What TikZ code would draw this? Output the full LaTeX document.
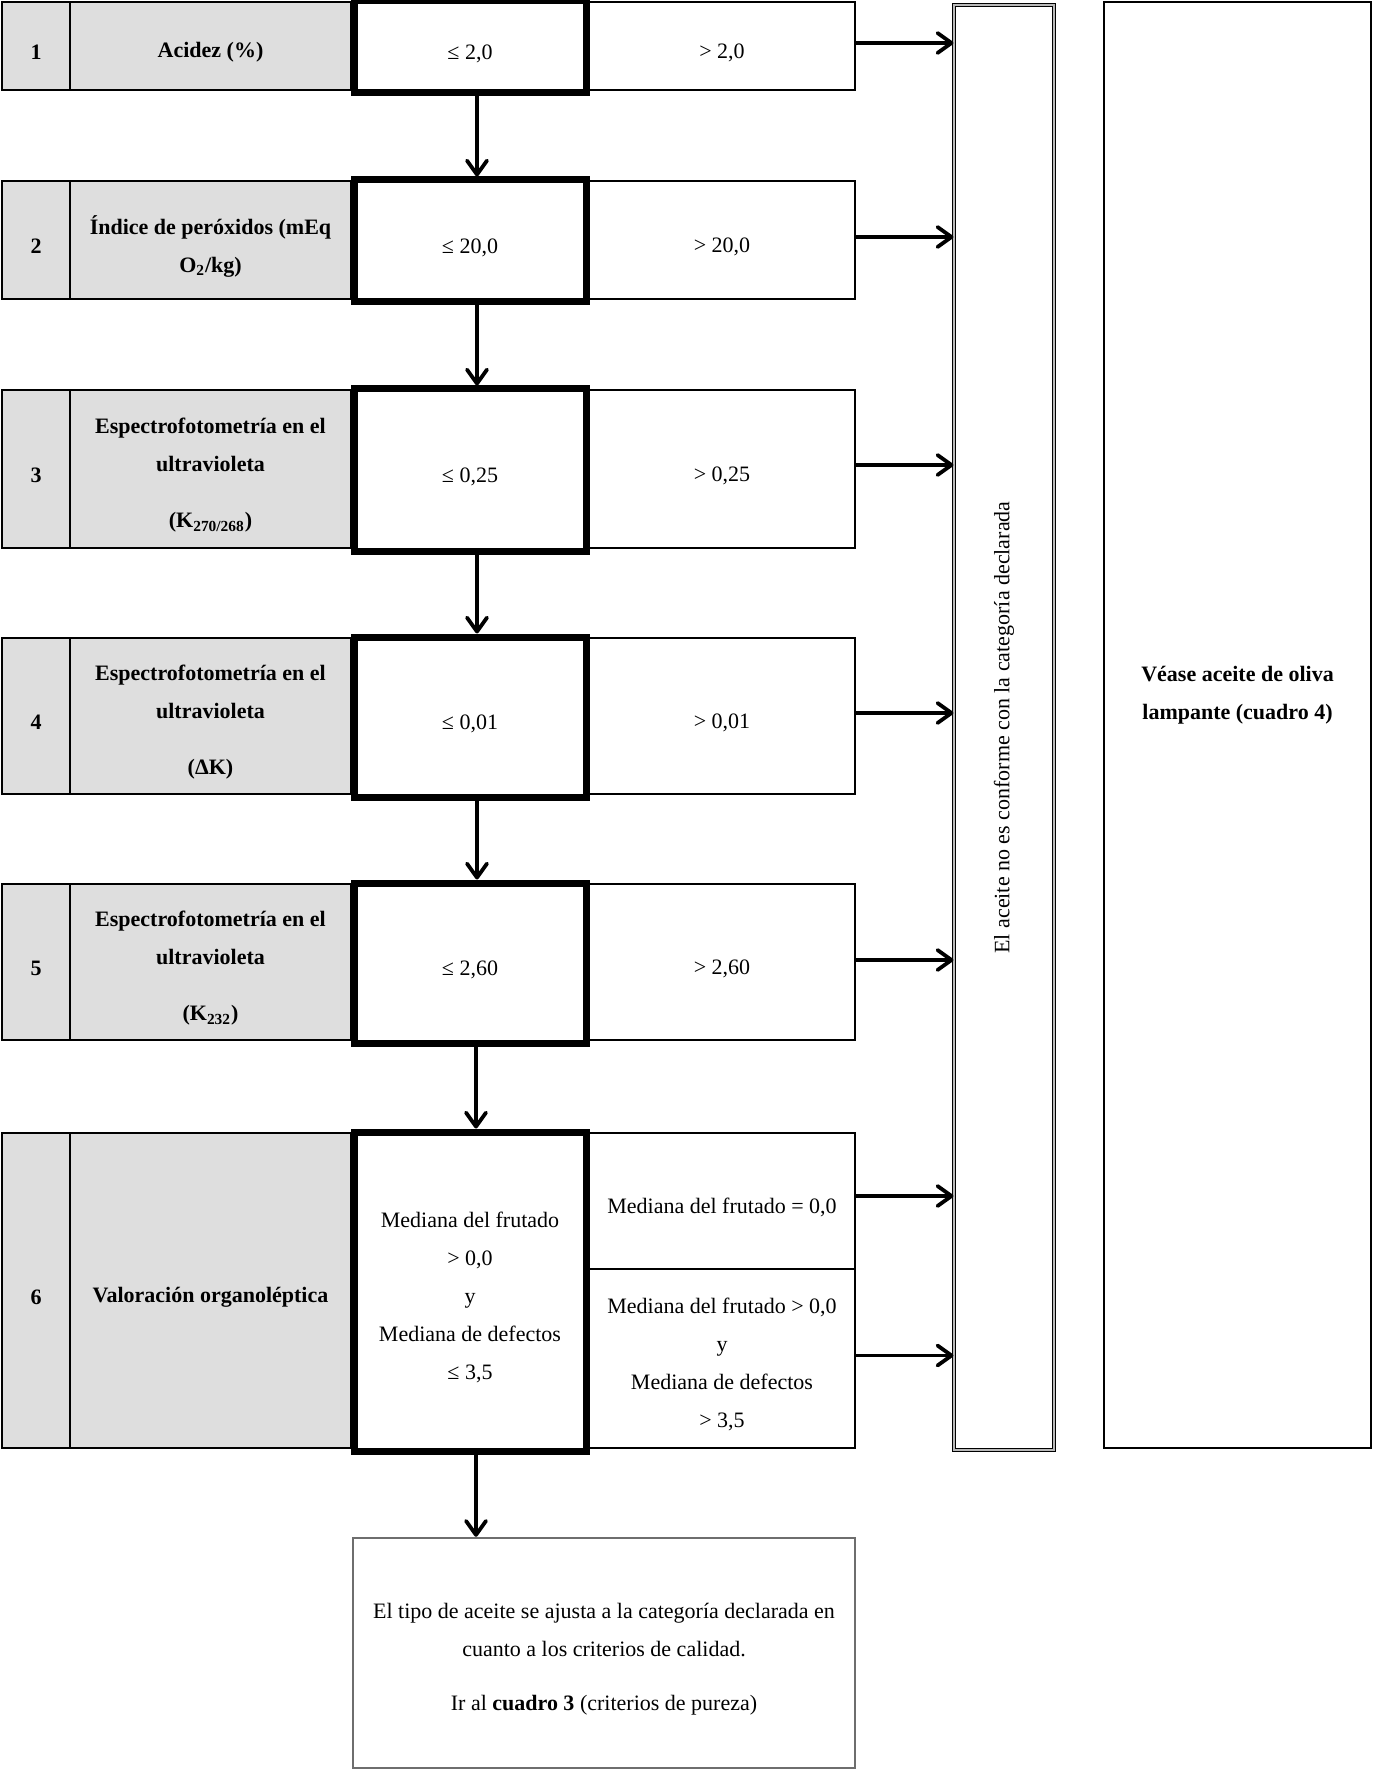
\documentclass[tikz,border=0pt]{standalone}
\usepackage{fontspec}
\setmainfont{Liberation Serif}
\usepackage{tikz}
\usetikzlibrary{arrows.meta,calc}

\definecolor{cellgray}{RGB}{222,222,222}
\definecolor{boxgray}{RGB}{110,110,110}

\begin{document}
\begin{tikzpicture}[x=0.5pt,y=-0.5pt]
            \tikzstyle{txt}=[align=center, inner sep=0pt, yshift=-3.2pt, font=\fontsize{11}{19}\selectfont]
            \tikzstyle{txtb}=[txt, font=\fontsize{11}{19}\selectfont\bfseries]
            \tikzstyle{cell}=[draw, line width=0.8pt, inner sep=0pt]
            \tikzstyle{numcell}=[cell, fill=cellgray, minimum width=34pt]
            \tikzstyle{labelcell}=[cell, fill=cellgray, minimum width=140.5pt]
            \tikzstyle{okcell}=[cell, fill=white, line width=3.5pt, minimum width=116pt]
            \tikzstyle{badcell}=[cell, fill=white, minimum width=133pt]
            \tikzstyle{flow}=[line width=1.9pt, -{Straight Barb[length=7pt,width=10pt,round]}]

            \useasboundingbox (0,0) rectangle (1372,1770);

            % row 1
            \node[numcell, minimum height=44pt, label={[txtb]center:1}] (n1) at (36,46) {};
            \node[labelcell, minimum height=44pt, label={[txtb]center:Acidez (\%)}] (l1) at (210.5,46) {};
            \node[badcell, minimum height=44pt, label={[txt]center:> 2,0}] (b1) at (722,46) {};
            \node[okcell, minimum height=46pt, label={[txt]center:≤ 2,0}] (k1) at (470,47) {};

            % row 2
            \node[numcell, minimum height=59pt, label={[txtb]center:2}] (n2) at (36,240) {};
            \node[labelcell, minimum height=59pt, label={[txtb]center:Índice de peróxidos (mEq\\O\textsubscript{2}/kg)}] (l2) at (210.5,240) {};
            \node[badcell, minimum height=59pt, label={[txt]center:> 20,0}] (b2) at (722,240) {};
            \node[okcell, minimum height=61pt, label={[txt]center:≤ 20,0}] (k2) at (470,241) {};

            % row 3
            \node[numcell, minimum height=79pt, label={[txtb]center:3}] (n3) at (36,469) {};
            \node[labelcell, minimum height=79pt, label={[txtb]center:Espectrofotometría en el\\ultravioleta\\[9pt](K\textsubscript{270/268})}] (l3) at (210.5,469) {};
            \node[badcell, minimum height=79pt, label={[txt]center:> 0,25}] (b3) at (722,469) {};
            \node[okcell, minimum height=81pt, label={[txt]center:≤ 0,25}] (k3) at (470,470) {};

            % row 4
            \node[numcell, minimum height=78pt, label={[txtb]center:4}] (n4) at (36,716) {};
            \node[labelcell, minimum height=78pt, label={[txtb]center:Espectrofotometría en el\\ultravioleta\\[9pt](ΔK)}] (l4) at (210.5,716) {};
            \node[badcell, minimum height=78pt, label={[txt]center:> 0,01}] (b4) at (722,716) {};
            \node[okcell, minimum height=80pt, label={[txt]center:≤ 0,01}] (k4) at (470,717) {};

            % row 5
            \node[numcell, minimum height=78pt, label={[txtb]center:5}] (n5) at (36,962) {};
            \node[labelcell, minimum height=78pt, label={[txtb]center:Espectrofotometría en el\\ultravioleta\\[9pt](K\textsubscript{232})}] (l5) at (210.5,962) {};
            \node[badcell, minimum height=78pt, label={[txt]center:> 2,60}] (b5) at (722,962) {};
            \node[okcell, minimum height=80pt, label={[txt]center:≤ 2,60}] (k5) at (470,963) {};

            % row 6
            \node[numcell, minimum height=157.5pt, label={[txtb]center:6}] (n6) at (36,1290.5) {};
            \node[labelcell, minimum height=157.5pt, label={[txtb]center:Valoración organoléptica}] (l6) at (210.5,1290.5) {};
            \node[badcell, minimum height=68pt, label={[txt]center:Mediana del frutado = 0,0}] (b6a) at (722,1201) {};
            \node[badcell, minimum height=89.5pt, label={[txt]center:Mediana del frutado > 0,0\\y\\Mediana de defectos\\> 3,5}] (b6b) at (722,1358.5) {};
            \node[okcell, minimum height=159.5pt, label={[txt]center:Mediana del frutado\\> 0,0\\y\\Mediana de defectos\\≤ 3,5}] (k6) at (470,1291.5) {};

            % outcome boxes
            \node[draw, line width=0.6pt, double=gray!55, double distance=1.2pt, inner sep=0pt, minimum width=50pt, minimum height=722.5pt] (nc) at (1004,727.5) {};
            \node[rotate=90, font=\fontsize{11}{19}\selectfont] (nctext) at (nc.center) {El aceite no es conforme con la categoría declarada};

            \node[draw, line width=0.6pt, inner sep=0pt, minimum width=133.5pt, minimum height=723pt] (lamp) at (1237.5,725) {};
            \node[align=center, font=\fontsize{11}{19}\selectfont\bfseries] (lamptext) at ([yshift=15pt]lamp.center) {Véase aceite de oliva\\lampante (cuadro 4)};

            \node[draw=boxgray, line width=1.2pt, inner sep=0pt, minimum width=251pt, minimum height=115pt, label={[txt]center:El tipo de aceite se ajusta a la categoría declarada en\\cuanto a los criterios de calidad.\\[8pt]Ir al \textbf{cuadro 3} (criterios de pureza)}] (fin) at (604,1653) {};

            % downward flow
            \draw[flow] ([xshift=3.5pt]k1.south) -- ([xshift=3.5pt]k2.north);
            \draw[flow] ([xshift=3.5pt]k2.south) -- ([xshift=3.5pt]k3.north);
            \draw[flow] ([xshift=3.5pt]k3.south) -- ([xshift=3.5pt]k4.north);
            \draw[flow] ([xshift=3.5pt]k4.south) -- ([xshift=3.5pt]k5.north);
            \draw[flow] ([xshift=3pt]k5.south) -- ([xshift=3pt]k6.north);
            \draw[flow] ([xshift=3pt]k6.south) -- ([xshift=3pt]k6.south |- fin.north);

            % rejections
            \draw[flow] ([yshift=1.5pt]b1.east) -- ([yshift=1.5pt]b1.east -| nc.west);
            \draw[flow] ([yshift=1.5pt]b2.east) -- ([yshift=1.5pt]b2.east -| nc.west);
            \draw[flow] ([yshift=2pt]b3.east) -- ([yshift=2pt]b3.east -| nc.west);
            \draw[flow] ([yshift=1.5pt]b4.east) -- ([yshift=1.5pt]b4.east -| nc.west);
            \draw[flow] ([yshift=1pt]b5.east) -- ([yshift=1pt]b5.east -| nc.west);
            \draw[flow] ([yshift=2.5pt]b6a.east) -- ([yshift=2.5pt]b6a.east -| nc.west);
            \draw[flow] ([yshift=1.5pt]b6b.east) -- ([yshift=1.5pt]b6b.east -| nc.west);
\end{tikzpicture}
\end{document}
